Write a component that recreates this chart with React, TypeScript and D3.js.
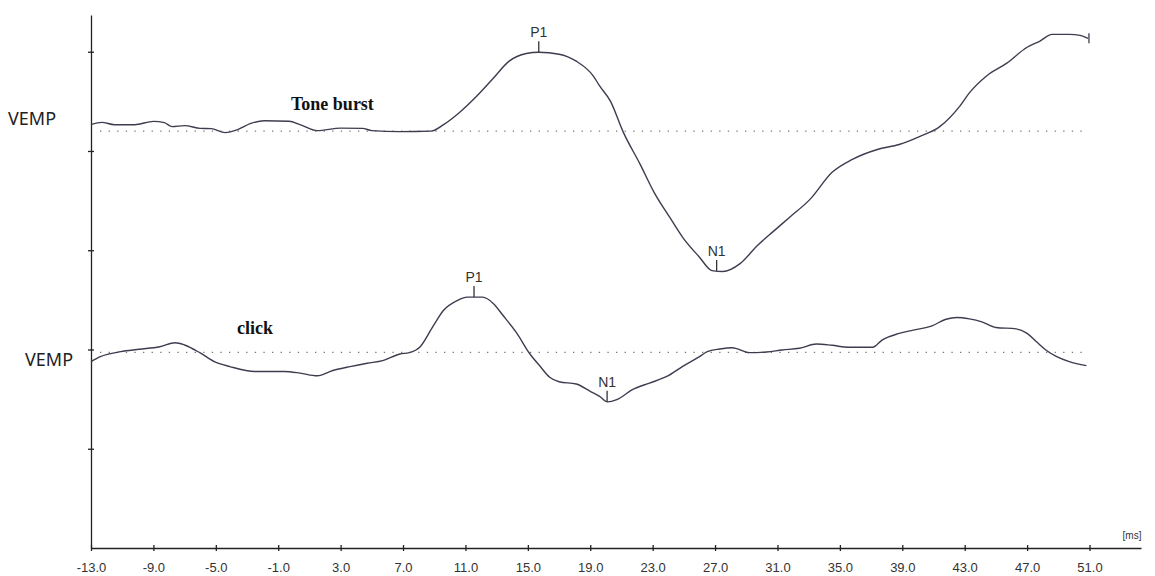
// @ts-nocheck
import React from "react";
import * as d3 from "d3";

// time axis (ms) and amplitude ticks (µV, unlabelled on the recording)
const timeTicks = [-13, -9, -5, -1, 3, 7, 11, 15, 19, 23, 27, 31, 35, 39, 43, 47, 51];
const ampTicks = [100, 200, 300, 400, 500];

// tone burst VEMP, amplitude relative to its own baseline (µV)
const toneTime = [
  -13.0, -12.3, -11.5, -10.2, -9.0, -8.3, -7.8, -7.0, -6.0, -5.3, -4.4, -3.6, -2.8, -1.9, -0.3,
  0.4, 1.5, 3.0, 4.4, 5.0, 6.8, 8.8, 9.6, 10.6, 11.7, 12.8, 13.8, 14.9, 15.7, 17.0, 18.1, 19.2,
  19.6, 20.3, 21.1, 22.2, 23.1, 24.1, 24.9, 26.0, 26.8, 27.5, 28.6, 29.7, 30.7, 31.8, 33.1, 34.5,
  35.8, 37.4, 38.8, 40.1, 41.4, 42.7, 43.3, 44.4, 45.7, 47.0, 47.8, 48.6, 49.7, 50.4, 50.9,
];
const toneAmp = [
  6.5, 8.8, 6.5, 6.5, 9.8, 8.5, 4.5, 5.5, 2.8, 2.5, -1.5, 1.5, 7.5, 10.5, 10,
  6.5, 0.5, 3, 2.8, 0.5, -0.5, 0, 6.5, 18.5, 34.8, 53.5, 70.5, 78.2, 79.5, 77.5, 70.5, 55.5,
  45.5, 30, -0.5, -33.5, -62, -87, -106.5, -127, -140.5, -141.5, -133.5, -115.5, -101.5, -86.5, -68.5, -41.5,
  -28.5, -18.5, -13.5, -5.5, 4.5, 25.5, 38.5, 55.5, 68.5, 84.5, 90.5, 97.5, 97.5, 96.5, 93.5,
];

// click VEMP, amplitude relative to its own baseline (µV)
const clickTime = [
  -13.0, -12.4, -11.1, -9.9, -8.6, -7.6, -7.0, -6.0, -5.1, -4.1, -2.5, -0.6, 0.4, 1.5, 2.5, 3.6,
  4.7, 5.7, 6.8, 7.4, 8.1, 8.9, 9.6, 10.5, 11.1, 12.1, 12.8, 13.4, 14.3, 15.1, 15.8, 16.4, 17.0,
  18.1, 19.0, 19.6, 20.1, 20.7, 21.7, 22.8, 23.9, 24.9, 26.0, 26.5, 27.3, 28.1, 29.2, 30.3, 31.3,
  32.4, 33.5, 34.5, 35.6, 37.1, 37.7, 38.8, 39.7, 40.9, 41.8, 42.5, 43.3, 44.1, 45.0, 46.3, 47.0,
  47.6, 48.2, 48.9, 49.7, 50.8,
];
const clickAmp = [
  -9.2, -4.2, 0.8, 3.2, 5.8, 9.8, 7.5, -0.5, -9.2, -14.2, -19.2, -19.2, -20.8, -23.5, -18.2, -14.2,
  -10.8, -8.2, -1.5, -0.2, 5.8, 25.8, 42.5, 52.5, 55.8, 55.8, 49.2, 37.5, 19.2, -0.8, -14.2, -25, -29.5,
  -31.8, -39.2, -44.2, -49.8, -47.5, -37.5, -30.8, -24.2, -14.2, -4.2, 0.8, 3.5, 4.8, -0.2, 0.5, 2.5,
  4.2, 8.5, 7.2, 5.2, 5.2, 12.5, 19.2, 22.5, 26.8, 33.5, 35.2, 33.8, 30.8, 25.2, 23.8, 19.2,
  10.8, 2.5, -4.2, -9.2, -13.2,
];

const toneMarkers = [{ label: "P1", time: 15.7 }, { label: "N1", time: 27.1 }];
const clickMarkers = [{ label: "P1", time: 11.55 }, { label: "N1", time: 20.08 }];

const traces = [
  { name: "Tone burst", time: toneTime, amp: toneAmp, offset: 420, markers: toneMarkers, endTick: true },
  { name: "click", time: clickTime, amp: clickAmp, offset: 197, markers: clickMarkers, endTick: false },
];

const width = 1155;
const height = 576;

const VempChart = () => {
  const svgRef = React.useRef(null);

  React.useEffect(() => {
    const xScale = d3.scaleLinear().domain([-13, 54.3]).range([91, 1141]);
    const yScale = d3.scaleLinear().domain([0, 537]).range([548, 15]);

    const svg = d3.select(svgRef.current);
    svg.selectAll("*").remove();
    svg.append("rect").attr("width", width).attr("height", height).attr("fill", "#fff");

    const axisColor = "#222";
    const textColor = "#333";
    const sans = "Liberation Sans, Arial, sans-serif";

    // X axis
    const xAxis = d3.axisBottom(xScale)
      .tickValues(timeTicks)
      .tickSizeOuter(0)
      .tickFormat((d) => d.toFixed(1));
    const xg = svg.append("g").attr("transform", `translate(0,${yScale(0)})`).call(xAxis);
    xg.select(".domain").attr("stroke", axisColor).attr("stroke-width", 1.3);
    xg.selectAll(".tick line").attr("y1", -3).attr("y2", 3).attr("stroke", axisColor).attr("stroke-width", 1.3);
    xg.selectAll(".tick text")
      .attr("y", 24).attr("dy", 0)
      .attr("fill", textColor)
      .attr("font-family", sans)
      .attr("font-size", 13);

    svg.append("text")
      .attr("x", 1132).attr("y", 539)
      .attr("text-anchor", "middle")
      .attr("fill", textColor)
      .attr("font-family", sans)
      .attr("font-size", 10)
      .text("[ms]");

    // Y axis
    const yAxis = d3.axisLeft(yScale).tickValues(ampTicks).tickSizeOuter(0).tickFormat("");
    const yg = svg.append("g").attr("transform", `translate(${xScale(-13)},0)`).call(yAxis);
    yg.select(".domain").attr("stroke", axisColor).attr("stroke-width", 1.3);
    yg.selectAll(".tick line").attr("x1", -3).attr("x2", 3).attr("stroke", axisColor).attr("stroke-width", 1.3);

    const line = d3.line()
      .x((d) => xScale(d[0]))
      .y((d) => yScale(d[1]))
      .curve(d3.curveMonotoneX);

    const labelLayout = [
      { vemp: [8, -6], name: [291, -21] },
      { vemp: [25, 14], name: [237, -18] },
    ];

    traces.forEach((t, i) => {
      const base = yScale(t.offset);
      const pts = t.time.map((tm, j) => [tm, t.amp[j] + t.offset]);

      // dotted baseline
      svg.append("line")
        .attr("x1", 100).attr("x2", 1083)
        .attr("y1", base).attr("y2", base)
        .attr("stroke", "#777")
        .attr("stroke-width", 1.2)
        .attr("stroke-dasharray", "1.3,7.3");

      svg.append("path")
        .datum(pts)
        .attr("fill", "none")
        .attr("stroke", "#3d3d4f")
        .attr("stroke-width", 1.4)
        .attr("d", line);

      // peak markers
      const ampAt = (tm) => {
        const k = Math.max(1, d3.bisectLeft(t.time, tm));
        const t0 = t.time[k - 1], t1 = t.time[k];
        const f = (tm - t0) / (t1 - t0);
        return t.amp[k - 1] + f * (t.amp[k] - t.amp[k - 1]) + t.offset;
      };
      t.markers.forEach((m) => {
        const mx = xScale(m.time);
        const my = yScale(ampAt(m.time));
        svg.append("line")
          .attr("x1", mx).attr("x2", mx)
          .attr("y1", my).attr("y2", my - 11)
          .attr("stroke", "#333").attr("stroke-width", 1.3);
        svg.append("text")
          .attr("x", mx).attr("y", my - 15)
          .attr("text-anchor", "middle")
          .attr("fill", textColor)
          .attr("font-family", sans)
          .attr("font-size", 14)
          .text(m.label);
      });

      if (t.endTick) {
        const last = pts[pts.length - 1];
        svg.append("line")
          .attr("x1", xScale(last[0]) + 1).attr("x2", xScale(last[0]) + 1)
          .attr("y1", yScale(last[1]) - 5).attr("y2", yScale(last[1]) + 5)
          .attr("stroke", "#3d3d4f").attr("stroke-width", 1.3);
      }

      const lay = labelLayout[i];
      svg.append("text")
        .attr("x", lay.vemp[0]).attr("y", base + lay.vemp[1])
        .attr("fill", "#222")
        .attr("font-family", "Noto Sans, Open Sans, sans-serif")
        .attr("font-size", 18)
        .text("VEMP");
      svg.append("text")
        .attr("x", lay.name[0]).attr("y", base + lay.name[1])
        .attr("fill", "#111")
        .attr("font-family", "Liberation Serif, Times New Roman, serif")
        .attr("font-weight", "bold")
        .attr("font-size", 18)
        .text(t.name);
    });
  }, []);

  return <svg ref={svgRef} width={width} height={height} style={{ position: "absolute", left: 0, top: 0 }} />;
};

export default function App() {
  return <VempChart />;
}
